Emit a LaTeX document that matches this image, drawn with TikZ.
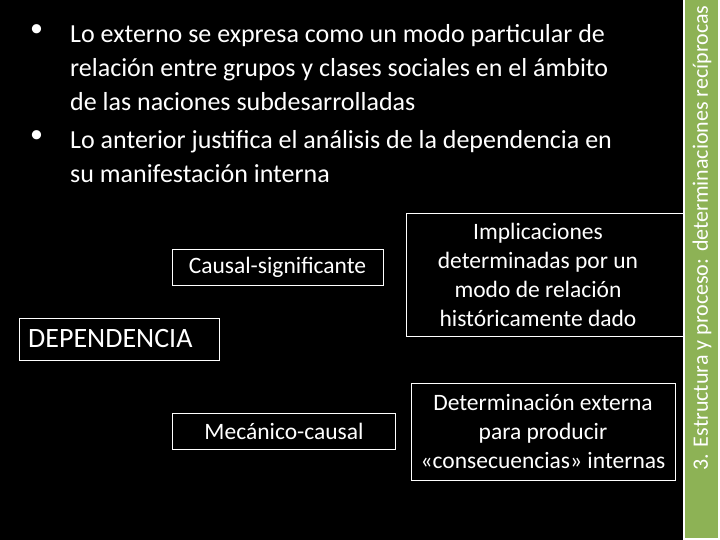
\documentclass[tikz,border=0pt]{standalone}
\usepackage{fontspec}
\setmainfont{Carlito}
\definecolor{strip}{HTML}{8DB255}
\begin{document}
\begin{tikzpicture}[x=1pt,y=-1pt,
  bx/.style={draw=white,line width=0.8pt},
  t/.style={text=white,font=\fontsize{23.5}{29}\selectfont,align=center,inner sep=0pt},
  bl/.style={text=white,font=\fontsize{26}{34}\selectfont,anchor=north west,align=left,inner sep=0pt}]
\useasboundingbox (0,0) rectangle (720,540);
\fill[white] (0,0) rectangle (720,540);
\fill[black] (0,0) rectangle (683,540);
\fill[strip] (685,0) rectangle (718,538);
\node[rotate=90,text=white,font=\fontsize{22}{24}\selectfont,inner sep=0pt] (side) at (702,238) {3. Estructura y proceso: determinaciones recíprocas};
\node[bl] (b1) at (30,24) {•};
\node[bl] (p1) at (70,24) {Lo externo se expresa como un modo particular de\\relación entre grupos y clases sociales en el ámbito\\de las naciones subdesarrolladas};
\node[bl] (b2) at (30,130) {•};
\node[bl] (p2) at (70,130) {Lo anterior justifica el análisis de la dependencia en\\su manifestación interna};
\draw[bx] (172,249) rectangle (383,285);
\node[t] (cs) at (277.5,267) {Causal-significante};
\draw[bx] (19,318) rectangle (219,360);
\node[t,anchor=west,font=\fontsize{28}{30}\selectfont] (dep) at (28,339) {DEPENDENCIA};
\draw[bx] (172,413) rectangle (395,449);
\node[t] (mc) at (284,431) {Mecánico-causal};
\draw[bx] (406,213) rectangle (683,336);
\node[t] (imp) at (538,275) {Implicaciones\\determinadas por un\\modo de relación\\históricamente dado};
\draw[bx] (411,383) rectangle (675,480);
\node[t] (det) at (543,431) {Determinación externa\\para producir\\«consecuencias» internas};
\end{tikzpicture}
\end{document}
